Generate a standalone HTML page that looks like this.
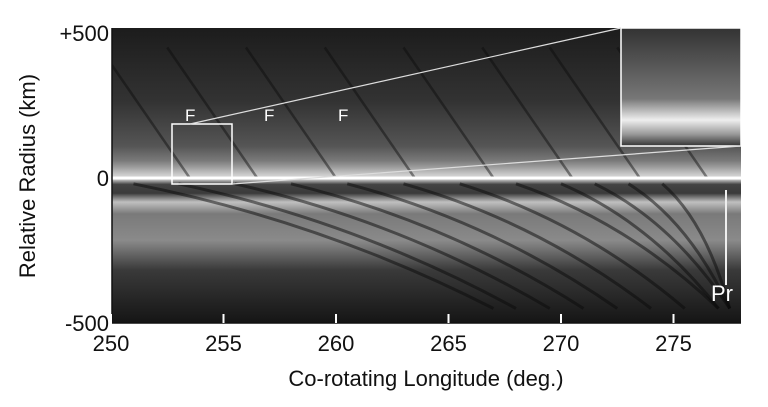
<!DOCTYPE html>
<html><head><meta charset="utf-8"><style>
body{margin:0;background:#fff;}
svg{display:block;font-family:"Liberation Sans",sans-serif;}
</style></head><body>
<svg id="chart" width="768" height="407" viewBox="0 0 768 407">
<defs>
<linearGradient id="bg" x1="0" y1="0" x2="0" y2="1">
<stop offset="0" stop-color="#1c1c1c"/>
<stop offset="0.25" stop-color="#333"/>
<stop offset="0.4" stop-color="#555"/>
<stop offset="0.45" stop-color="#7a7a7a"/>
<stop offset="0.47" stop-color="#9a9a9a"/>
<stop offset="0.5" stop-color="#d0d0d0"/>
<stop offset="0.515" stop-color="#bbb"/>
<stop offset="0.53" stop-color="#444"/>
<stop offset="0.56" stop-color="#3a3a3a"/>
<stop offset="0.59" stop-color="#c0c0c0"/>
<stop offset="0.63" stop-color="#7a7a7a"/>
<stop offset="0.72" stop-color="#8a8a8a"/>
<stop offset="0.82" stop-color="#3a3a3a"/>
<stop offset="1" stop-color="#151515"/>
</linearGradient>
<linearGradient id="ins" x1="0" y1="0" x2="0" y2="1">
<stop offset="0" stop-color="#333"/><stop offset="0.6" stop-color="#777"/>
<stop offset="0.78" stop-color="#eee"/><stop offset="0.9" stop-color="#999"/><stop offset="1" stop-color="#333"/>
</linearGradient>
</defs>
<rect x="112" y="28" width="629" height="295" fill="url(#bg)"/>
<g id="strands"></g>
<rect x="621" y="28" width="120" height="118" fill="url(#ins)" stroke="#fff" stroke-width="1.5"/>
<line x1="112" y1="178" x2="741" y2="178" stroke="#fff" stroke-width="3"/>
<rect x="172" y="124" width="60" height="60" fill="none" stroke="#fff" stroke-width="1.5"/>
<line x1="190" y1="124" x2="621" y2="28" stroke="#ddd" stroke-width="1.2"/>
<line x1="232" y1="184" x2="741" y2="146" stroke="#ddd" stroke-width="1.2"/>
<line x1="726" y1="190" x2="726" y2="285" stroke="#eee" stroke-width="2"/>
<g fill="#fff" font-size="17">
<text x="185" y="121">F</text>
<text x="264" y="121">F</text>
<text x="338" y="121">F</text>
<text x="711" y="301" font-size="22">Pr</text>
</g>
<g id="axes" font-size="22" fill="#111"></g>
<text x="426" y="386" text-anchor="middle" font-size="22" fill="#111">Co-rotating Longitude (deg.)</text>
<text transform="translate(35,176) rotate(-90)" text-anchor="middle" font-size="22" fill="#111">Relative Radius (km)</text>
</svg>
<script>
const xTicks=[250,255,260,265,270,275];
const yTicks=[500,0,-500];
const yTickLabels=["+500","0","-500"];
const upperStrands=[249.5,252.5,256,259.5,263,266.5,269.5,272.5];
const lowerStrands=[251,253,255.5,258,260.5,263,265.5,268,270,271.5,273,274.5];
const lowerDrop=[16,15,14,13,12,11,10,9,7,6,4.5,3];
const X=v=>111+(v-250)*22.5;
const Y=r=>178-r*0.29;
const ns="http://www.w3.org/2000/svg";
const sg=document.getElementById('strands');
function ln(x1,y1,x2,y2,c,w,name){const l=document.createElementNS(ns,'line');
l.setAttribute('x1',x1);l.setAttribute('y1',y1);l.setAttribute('x2',x2);l.setAttribute('y2',y2);
l.setAttribute('stroke',c);l.setAttribute('stroke-width',w);


return l;}
const clip=document.createElementNS(ns,'clipPath');clip.id='pc';
const cr=document.createElementNS(ns,'rect');cr.setAttribute('x',112);cr.setAttribute('y',28);cr.setAttribute('width',629);cr.setAttribute('height',295);
clip.appendChild(cr);document.querySelector('defs').appendChild(clip);
sg.setAttribute('clip-path','url(#pc)');
upperStrands.forEach(v=>{sg.appendChild(ln(X(v),Y(450),X(v+4),Y(0),'rgba(10,10,10,0.45)',2.5,'upper-strand'));});
lowerStrands.forEach((v,i)=>{const p=document.createElementNS(ns,'path');
const x0=X(v),x1=X(v+lowerDrop[i]);
p.setAttribute('d',`M${x0},${Y(-20)} Q${(x0+x1)/2+10},${Y(-150)} ${x1},${Y(-450)}`);
p.setAttribute('fill','none');p.setAttribute('stroke','rgba(10,10,10,0.5)');p.setAttribute('stroke-width',3);


sg.appendChild(p);});
const ax=document.getElementById('axes');
ax.appendChild(ln(112,323,741,323,'#111',1.5,'x-axis-line'));
ax.appendChild(ln(112,28,112,323,'#111',1.5,'y-axis-line'));
xTicks.forEach(v=>{ax.appendChild(ln(X(v),323,X(v),314,'#fff',2,'x-tick'));
const t=document.createElementNS(ns,'text');t.setAttribute('x',X(v));t.setAttribute('y',351);t.setAttribute('text-anchor','middle');t.textContent=v;


ax.appendChild(t);});
yTicks.forEach((v,i)=>{const t=document.createElementNS(ns,'text');t.setAttribute('x',109);t.setAttribute('y',Y(v)+8);t.setAttribute('text-anchor','end');t.textContent=yTickLabels[i];


ax.appendChild(t);});
</script>
</body></html>
